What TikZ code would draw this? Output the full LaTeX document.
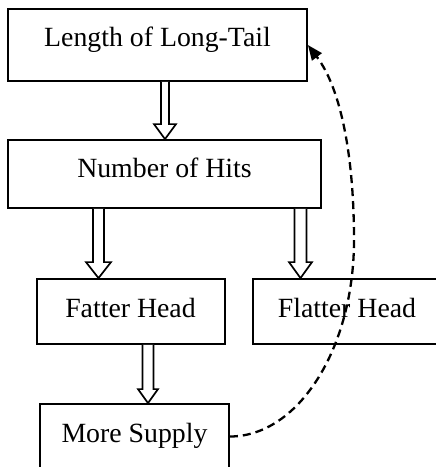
\documentclass[tikz,border=0pt]{standalone}
\usepackage{fontspec}
\setmainfont{Liberation Serif}
\usetikzlibrary{arrows.meta,calc}
\tikzset{
  box/.style={draw, line width=1.8pt, rectangle, inner sep=0pt},
  lbl/.style={anchor=base, inner sep=0pt, font=\fontsize{27.8}{33}\selectfont},
  harrow/.style={draw, line width=1.7pt, fill=white, line join=miter},
  feedback/.style={draw, line width=2.3pt, dash pattern=on 8pt off 5pt, -{Triangle[length=15pt,width=12pt]}}
}
\newcommand\hollowarrow[6]{%
  \draw[harrow] let \p1=(#1), \p2=(#2) in
   (#3-#4, \y1) -- (#3-#4, \y2+#6) -- (#3-#5, \y2+#6) -- (#3, \y2)
   -- (#3+#5, \y2+#6) -- (#3+#4, \y2+#6) -- (#3+#4, \y1);}
\begin{document}
\begin{tikzpicture}[x=1pt,y=-1pt]
\useasboundingbox (0,0) rectangle (436,467);
\clip (0,0) rectangle (436,467);
% boxes
\node[box, minimum width=299pt, minimum height=72pt] (b1) at (157.5,45) {};
\node[box, minimum width=313pt, minimum height=68pt] (b2) at (164.5,174) {};
\node[box, minimum width=188pt, minimum height=65pt] (b3) at (131,311.5) {};
\node[box, minimum width=188pt, minimum height=65pt] (b4) at (347,311.5) {};
\node[box, minimum width=189pt, minimum height=65pt] (b5) at (134.5,436.5) {};
% texts
\node[lbl] (t1) at (157.5,46) {Length of Long-Tail};
\node[lbl] (t2) at (164.5,177) {Number of Hits};
\node[lbl] (t3) at (130.5,317) {Fatter Head};
\node[lbl] (t4) at (347,317) {Flatter Head};
\node[lbl] (t5) at (134.5,442) {More Supply};
% hollow arrows
\hollowarrow{b1.south}{b2.north}{165pt}{4pt}{11pt}{15pt}
\hollowarrow{b2.south}{b3.north}{98.5pt}{5.5pt}{12.5pt}{16pt}
\hollowarrow{b2.south}{b4.north}{300.5pt}{6pt}{11.5pt}{16pt}
\hollowarrow{b3.south}{b5.north}{148pt}{5.5pt}{10pt}{14pt}
% feedback dashed curve
\coordinate (mid) at (354,240);
\draw[feedback] (b5.east) .. controls (298,436.5) and (354,349) .. (mid)
  .. controls (354,160) and (342,90) .. (b1.east);
\end{tikzpicture}
\end{document}
